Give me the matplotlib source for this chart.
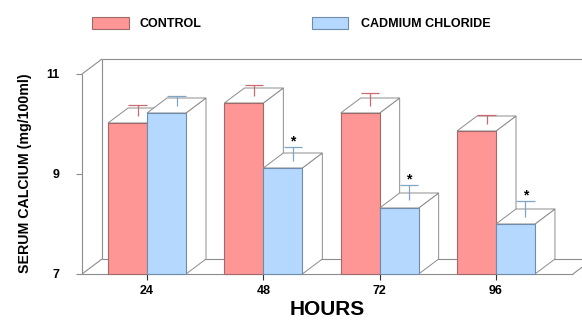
"""
Serum calcium, control vs cadmium chloride, drawn as a pseudo-3D bar chart.
"""

import matplotlib
matplotlib.use("Agg")
import matplotlib.pyplot as plt
from matplotlib.patches import Polygon, Rectangle

plt.rcParams["font.family"] = ["Liberation Sans", "DejaVu Sans"]
plt.rcParams["font.weight"] = "bold"

# values
hours        = ["24", "48", "72", "96"]
control      = [10.02, 10.42, 10.22, 9.86]
control_err  = [0.22, 0.21, 0.25, 0.17]
cadmium      = [10.22, 9.12, 8.32, 8.00]
cadmium_err  = [0.20, 0.27, 0.31, 0.31]
significant  = [False, True, True, True]
yticks       = [7, 9, 11]

RED_FACE,  RED_EDGE,  RED_ERR  = "#ff9696", "#a06a6a", "#c86a70"
BLUE_FACE, BLUE_EDGE, BLUE_ERR = "#b4d8ff", "#6f8cab", "#7fa6c4"
WALL = "#8c8c8c"

# geometry (data units)
ymin, ymax = 7, 11
width      = 0.335          # one bar
dx, dy     = 0.172, 0.30    # depth offset of the 3D box
cap        = 0.08           # half cap width
xl, xr     = -0.559, 3.662

fig = plt.figure(figsize=(5.82, 3.22), dpi=100)
ax  = fig.add_axes([82 / 582, 48 / 322, 491 / 582, 220 / 322])
ax.set_xlim(xl, xr)
ax.set_ylim(ymin, 11.4)
for s in ax.spines.values():
    s.set_visible(False)

def line(xs, ys, color=WALL, lw=0.8, z=1):
    ax.plot(xs, ys, color=color, lw=lw, zorder=z, clip_on=False,
            solid_capstyle="butt")

# walls / floor
line([xl, xl], [ymin, ymax])
line([xl, xl + dx], [ymax, ymax + dy])
line([xl, xl + dx], [ymin, ymin + dy])
line([xl + dx, xl + dx], [ymin + dy, ymax + dy])
line([xl + dx, xr + dx], [ymax + dy, ymax + dy])
line([xl + dx, xr + dx], [ymin + dy, ymin + dy])
line([xl, xr], [ymin, ymin])
line([xr, xr + dx], [ymin, ymin + dy])


def bar3d(x0, val, face, edge, z):
    front = Rectangle((x0, ymin), width, val - ymin, facecolor=face,
                      edgecolor=edge, lw=0.8, zorder=z, clip_on=False)
    top = Polygon([(x0, val), (x0 + width, val),
                   (x0 + width + dx, val + dy), (x0 + dx, val + dy)],
                  closed=True, facecolor="white", edgecolor=WALL, lw=0.7,
                  zorder=z, clip_on=False)
    side = Polygon([(x0 + width, ymin), (x0 + width + dx, ymin + dy),
                    (x0 + width + dx, val + dy), (x0 + width, val)],
                   closed=True, facecolor="white", edgecolor=WALL, lw=0.7,
                   zorder=z, clip_on=False)
    for p in (side, top, front):
        ax.add_patch(p)


def errbar(xc, val, err, color, z):
    yb = val + dy / 2
    line([xc, xc], [yb, yb + err], color=color, lw=0.9, z=z)
    line([xc - cap, xc + cap], [yb + err, yb + err], color=color, lw=0.9, z=z)


for i in range(len(hours)):
    z = 2 + i * 4
    x_c = i - width
    x_d = i
    bar3d(x_c, control[i], RED_FACE, RED_EDGE, z)
    errbar(x_c + width / 2 + dx / 2, control[i], control_err[i], RED_ERR, z + 1)
    bar3d(x_d, cadmium[i], BLUE_FACE, BLUE_EDGE, z + 2)
    errbar(x_d + width / 2 + dx / 2, cadmium[i], cadmium_err[i], BLUE_ERR, z + 3)
    if significant[i]:
        ax.text(x_d + width / 2 + dx / 2, cadmium[i] + dy / 2 + cadmium_err[i] + 0.12,
                "*", ha="center", va="center", fontsize=10, color="black",
                zorder=30)

# axes ticks and labels
ax.set_xticks(range(len(hours)))
ax.set_xticklabels(hours, fontsize=9, fontweight="bold")
ax.tick_params(axis="x", length=4, width=0.8, color="#333333", pad=4)
ax.set_yticks(yticks)
ax.set_yticklabels([str(t) for t in yticks], fontsize=9, fontweight="bold")
ax.tick_params(axis="y", length=4, width=0.8, color=WALL, pad=12)

ax.set_ylabel("SERUM CALCIUM (mg/100ml)", fontsize=10.2, fontweight="bold")
ax.yaxis.set_label_coords(-0.102, 0.459)
ax.set_xlabel("HOURS", fontsize=15, fontweight="bold")
ax.xaxis.set_label_coords(0.499, -0.118)

# legend, drawn by hand at the top
fig.add_artist(Rectangle((92 / 582, 1 - 29 / 322), 37 / 582, 12 / 322,
                         transform=fig.transFigure, facecolor=RED_FACE,
                         edgecolor=RED_EDGE, lw=0.8))
fig.text(140 / 582, 1 - 24 / 322, "CONTROL", fontsize=9, fontweight="bold",
         va="center")
fig.add_artist(Rectangle((312 / 582, 1 - 29 / 322), 36 / 582, 12 / 322,
                         transform=fig.transFigure, facecolor=BLUE_FACE,
                         edgecolor=BLUE_EDGE, lw=0.8))
fig.text(361 / 582, 1 - 24 / 322, "CADMIUM CHLORIDE", fontsize=9,
         fontweight="bold", va="center")

fig.savefig("out.png", dpi=100)
